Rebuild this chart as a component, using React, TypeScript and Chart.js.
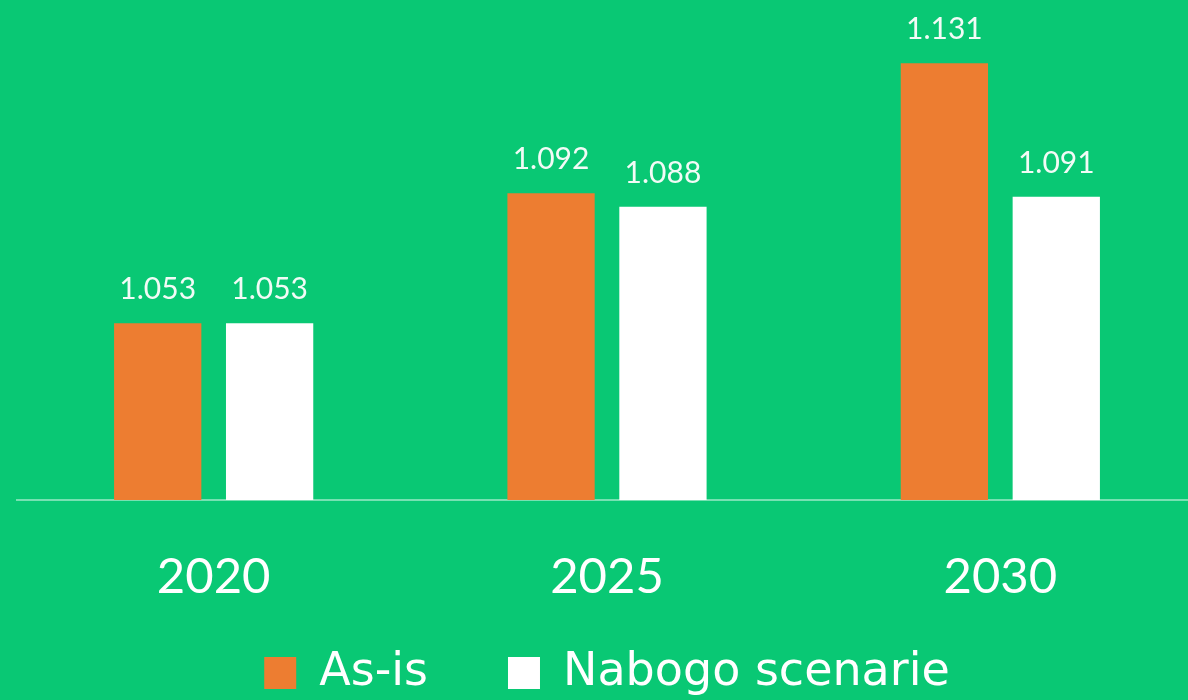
import React, { useEffect, useRef } from "react";
import { Chart, registerables } from "chart.js";

Chart.register(...registerables);

const categories = ["2020", "2025", "2030"];
const asIsValues = [1.053, 1.092, 1.131];
const nabogoValues = [1.053, 1.088, 1.091];
const seriesNames = ["As-is", "Nabogo scenarie"];
const yMin = 1.0;
const yMax = 1.15;

const BG = "#09C874";
const ORANGE = "#ED7D31";
const WHITE = "#FFFFFF";
const FONT = "Lato";
const LEGEND_FONT = "'DejaVu Sans'";

const valueLabels = {
  id: "valueLabels",
  afterDatasetsDraw(chart: any) {
    const ctx = chart.ctx;
    ctx.save();
    ctx.fillStyle = "#F2FBF6";
    ctx.font = `400 30px ${FONT}`;
    ctx.textAlign = "center";
    ctx.textBaseline = "alphabetic";
    chart.data.datasets.forEach((ds: any, i: number) => {
      const meta = chart.getDatasetMeta(i);
      meta.data.forEach((bar: any, j: number) => {
        ctx.fillText(Number(ds.data[j]).toFixed(3), bar.x, bar.y - 24);
      });
    });
    ctx.restore();
  },
};

export default function App() {
  const ref = useRef<HTMLCanvasElement | null>(null);
  useEffect(() => {
    document.body.style.margin = "0";
    document.body.style.background = BG;
    const chart = new Chart(ref.current as HTMLCanvasElement, {
      type: "bar",
      data: {
        labels: categories,
        datasets: [
          {
            label: seriesNames[0],
            data: asIsValues,
            backgroundColor: ORANGE,
            categoryPercentage: 0.569,
            barPercentage: 0.78,
          },
          {
            label: seriesNames[1],
            data: nabogoValues,
            backgroundColor: WHITE,
            categoryPercentage: 0.569,
            barPercentage: 0.78,
          },
        ],
      },
      options: {
        responsive: false,
        animation: false,
        layout: { padding: { left: 17, right: 3, top: 0, bottom: 0 } },
        scales: {
          x: {
            grid: { display: false, drawTicks: false },
            border: { display: true, color: "rgba(255,255,255,0.45)", width: 2 },
            ticks: {
              color: WHITE,
              font: { family: FONT, size: 49 },
              padding: 48,
            },
            afterFit(scale: any) {
              scale.height = 70;
              scale._computeLabelArea = () => undefined;
            },
          },
          y: {
            display: false,
            min: yMin,
            max: yMax,
          },
        },
        plugins: {
          legend: {
            position: "bottom",
            labels: {
              color: WHITE,
              font: { family: LEGEND_FONT, size: 46 },
              boxWidth: 32,
              boxHeight: 32,
              padding: 80,
            },
          },
          tooltip: { enabled: false },
        },
      },
      plugins: [valueLabels],
    });
    return () => chart.destroy();
  }, []);
  return (
    <div
      style={{
        position: "absolute",
        left: 0,
        top: 0,
        width: 1188,
        height: 700,
        overflow: "hidden",
        background: BG,
      }}
    >
      <canvas ref={ref} width={1200} height={706} style={{ display: "block" }} />
    </div>
  );
}
